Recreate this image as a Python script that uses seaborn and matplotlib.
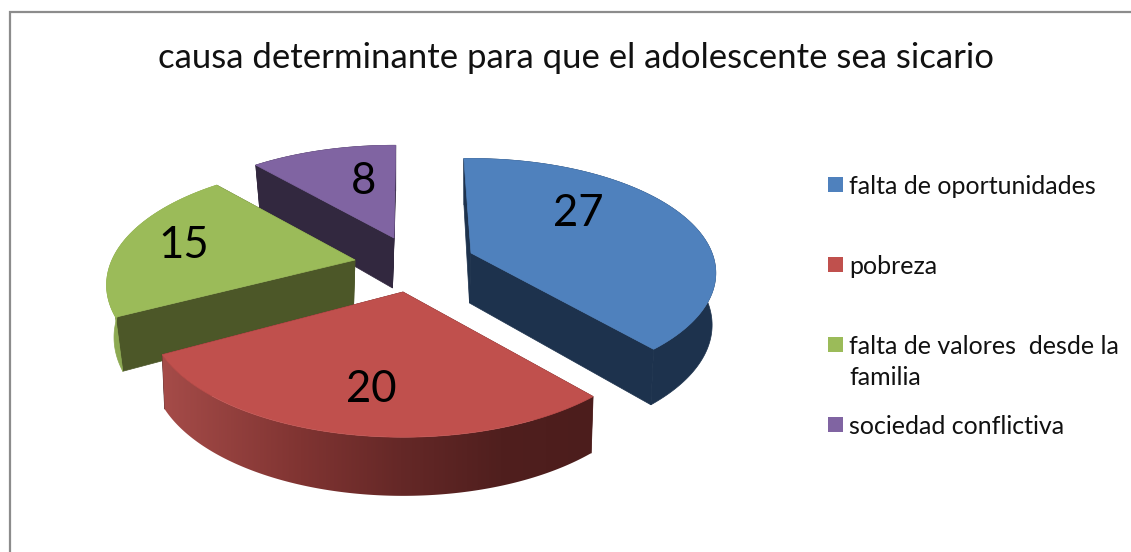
import numpy as np
import seaborn as sns
import matplotlib
matplotlib.use("Agg")
import matplotlib.pyplot as plt
from matplotlib.patches import Rectangle, Polygon

title = "causa determinante para que el adolescente sea sicario"
categories = ["falta de oportunidades", "pobreza", "falta de valores  desde la\nfamilia", "sociedad conflictiva"]
values = [27, 20, 15, 8]

top_colors = ["#4F81BD", "#C0504D", "#9BBB59", "#8064A2"]
wall_colors = ["#1D324D", "#4E1E1D", "#4C5728", "#32283F"]
rim_colors = ["#1D324D", None, "#8CA951", "#32283F"]

# where each slice tip lands in the picture (pixels), small turn of its edges, disc shape
apex = [(471, 253), (403, 292), (355, 260), (394, 238)]
spin_start = [-2.0, 1.0, 1.5, 0.0]
spin_end = [0.0, -1.0, 0.0, 0.5]
radius = [241, 248, 243, 243]
squash = [111, 115, 115, 112]
persp = [0.175, 0.208, 0.208, 0.208]
shrink = [0.985, 0.99, 0.97, 0.97]

label_pos = [(578, 213), (371, 389), (184, 246), (364, 181)]
legend_y = [184, 264, 344, 424]
text_y = [186, 266, 362, 426]


def project(theta, tip, i):
    t = np.radians(theta)
    x = np.sin(t)
    y = -np.cos(t)
    s = 1 / (1 - persp[i] * y)
    return tip[0] + radius[i] * x * s, tip[1] + squash[i] * y * s, s


def lower(px, py, s, tip, i):
    return tip[0] + (px - tip[0]) * shrink[i], py + 51 * s ** 0.6


sns.set_theme(style="white")
plt.rcParams["font.family"] = ["Lato", "DejaVu Sans"]
palette = sns.color_palette(top_colors)

fig = plt.figure(figsize=(11.31, 5.52), dpi=100)
ax = fig.add_axes([0, 0, 1, 1])

# only top and left of the frame are in the picture
ax.plot([10, 10, 1131], [552, 12, 12], color="#8C8C8C", lw=1.6, solid_joinstyle="miter")

edges = np.cumsum([0] + values) / sum(values) * 360

# shaded side of the red slice
grad_x = np.arange(150, 600)
xs = [160, 300, 400, 500, 590]
grad = np.stack([np.interp(grad_x, xs, [166, 128, 101, 80, 76]),
                 np.interp(grad_x, xs, [76, 52, 40, 31, 29]),
                 np.interp(grad_x, xs, [73, 50, 39, 30, 28])], axis=1)[None, :, :] / 255

# back slices first so the front ones cover them
z = 2
for i in [3, 0, 2, 1]:
    tip = apex[i]
    th = np.linspace(edges[i] + spin_start[i], edges[i + 1] + spin_end[i], 160)
    px, py, s = project(th, tip, i)
    bx, by = lower(px, py, s, tip, i)
    tip_b = (tip[0] - 1.5, tip[1] + 50)

    # flat cut walls
    ax.fill([tip[0], px[0], bx[0], tip_b[0]], [tip[1], py[0], by[0], tip_b[1]], color=wall_colors[i], lw=0.5, zorder=z)
    ax.fill([tip[0], px[-1], bx[-1], tip_b[0]], [tip[1], py[-1], by[-1], tip_b[1]], color=wall_colors[i], lw=0.5, zorder=z)

    # outer rim
    rim = np.c_[np.r_[px, bx[::-1]], np.r_[py, by[::-1]]]
    if rim_colors[i] is None:
        im = ax.imshow(grad, extent=(150, 600, 552, 0), aspect="auto", zorder=z + 1)
        im.set_clip_path(Polygon(rim, transform=ax.transData))
    else:
        ax.fill(rim[:, 0], rim[:, 1], color=rim_colors[i], lw=0.5, zorder=z + 1)

    # top face
    ax.fill(np.r_[tip[0], px], np.r_[tip[1], py], color=palette[i], lw=0.5, zorder=z + 2)
    z += 3

for i in range(len(values)):
    ax.text(label_pos[i][0], label_pos[i][1], str(values[i]), fontsize=31.5, color="black",
            ha="center", va="center", zorder=30)

ax.text(576, 58, title, fontsize=25, color="#111111", ha="center", va="center")

for i in range(len(categories)):
    ax.add_patch(Rectangle((828, legend_y[i] - 7.5), 15, 15, color=palette[i], lw=0))
    ax.text(849, text_y[i], categories[i], fontsize=18, color="#111111", ha="left", va="center",
            linespacing=1.45)

ax.set_xlim(0, 1131)
ax.set_ylim(552, 0)
ax.axis("off")

fig.savefig("out.png", dpi=100)
